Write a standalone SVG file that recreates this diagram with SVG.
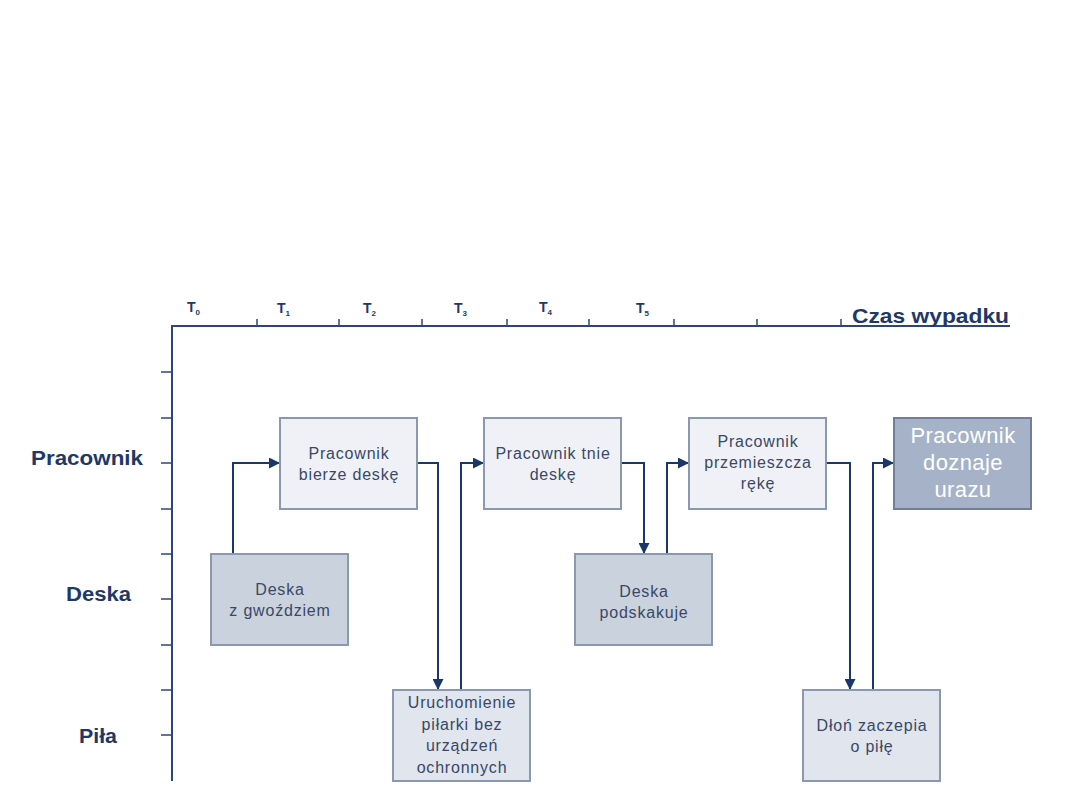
<svg xmlns="http://www.w3.org/2000/svg" width="1080" height="810" viewBox="0 0 1080 810">
<style>
.ax{stroke:#2a4777;stroke-width:2;fill:none}
.tk{stroke:#2a4777;stroke-width:1.5}
.lbl{font-family:"Liberation Sans",Arial,sans-serif;font-weight:bold;fill:#1f3868;font-size:20px}
.tl{font-family:"Liberation Sans",Arial,sans-serif;font-weight:bold;fill:#1f3868;font-size:14px}
.sub{font-size:8px}
.box{stroke:#8b98b2;stroke-width:2}
.l{fill:#eff1f6}
.m{fill:#cad2de}
.p{fill:#e0e5ee}
.d{fill:#a5b2c7;stroke:#6f7f9c}
.bt{font-family:"Liberation Sans",Arial,sans-serif;font-size:16px;letter-spacing:0.8px;fill:#3a4866;text-anchor:middle}
.wt{font-family:"Liberation Sans",Arial,sans-serif;font-size:22px;letter-spacing:0.4px;fill:#ffffff;text-anchor:middle}
.cn{stroke:#1b3768;stroke-width:2;fill:none}
</style>
<defs>
<marker id="ar" viewBox="0 0 10 10" refX="10" refY="5" markerWidth="11" markerHeight="11" orient="auto" markerUnits="userSpaceOnUse">
<path d="M0,0 L10,5 L0,10 z" fill="#1b3768"/>
</marker>
</defs>
<rect width="1080" height="810" fill="#ffffff"/>
<g id="axes">
<path class="ax" d="M172,781 V326 H1010"/>
<g class="tk">
<line x1="257" y1="326" x2="257" y2="319"/>
<line x1="339" y1="326" x2="339" y2="319"/>
<line x1="422" y1="326" x2="422" y2="319"/>
<line x1="507" y1="326" x2="507" y2="319"/>
<line x1="589" y1="326" x2="589" y2="319"/>
<line x1="674" y1="326" x2="674" y2="319"/>
<line x1="757" y1="326" x2="757" y2="319"/>
<line x1="841" y1="326" x2="841" y2="319"/>
<line x1="161" y1="372" x2="172" y2="372"/>
<line x1="161" y1="418" x2="172" y2="418"/>
<line x1="161" y1="463" x2="172" y2="463"/>
<line x1="161" y1="509" x2="172" y2="509"/>
<line x1="161" y1="554" x2="172" y2="554"/>
<line x1="161" y1="599" x2="172" y2="599"/>
<line x1="161" y1="645" x2="172" y2="645"/>
<line x1="161" y1="690" x2="172" y2="690"/>
<line x1="161" y1="735" x2="172" y2="735"/>
</g>
<text class="tl" x="187" y="312">T<tspan class="sub" dy="3">0</tspan></text>
<text class="tl" x="277" y="313">T<tspan class="sub" dy="3">1</tspan></text>
<text class="tl" x="363" y="313">T<tspan class="sub" dy="3">2</tspan></text>
<text class="tl" x="454" y="313">T<tspan class="sub" dy="3">3</tspan></text>
<text class="tl" x="539" y="312">T<tspan class="sub" dy="3">4</tspan></text>
<text class="tl" x="636" y="313">T<tspan class="sub" dy="3">5</tspan></text>
<text class="lbl" x="852" y="323" textLength="157" lengthAdjust="spacingAndGlyphs">Czas wypadku</text>
<text class="lbl" x="31" y="465" textLength="112" lengthAdjust="spacingAndGlyphs">Pracownik</text>
<text class="lbl" x="66" y="601" textLength="65" lengthAdjust="spacingAndGlyphs">Deska</text>
<text class="lbl" x="79" y="743" textLength="38" lengthAdjust="spacingAndGlyphs">Piła</text>
</g>
<g id="connectors">
<path class="cn" d="M233,554 V463 H280" marker-end="url(#ar)"/>
<path class="cn" d="M417,463 H438 V690" marker-end="url(#ar)"/>
<path class="cn" d="M461,690 V463 H484" marker-end="url(#ar)"/>
<path class="cn" d="M621,463 H644 V554" marker-end="url(#ar)"/>
<path class="cn" d="M667,554 V463 H689" marker-end="url(#ar)"/>
<path class="cn" d="M826,463 H850 V690" marker-end="url(#ar)"/>
<path class="cn" d="M873,690 V463 H894" marker-end="url(#ar)"/>
</g>
<g id="n1">
<rect class="box l" x="280" y="418" width="137" height="91"/>
<text class="bt" x="349" y="459">Pracownik</text>
<text class="bt" x="349" y="480">bierze deskę</text>
</g>
<g id="n2">
<rect class="box m" x="211" y="554" width="137" height="91"/>
<text class="bt" x="280" y="595">Deska</text>
<text class="bt" x="280" y="616">z gwoździem</text>
</g>
<g id="n3">
<rect class="box p" x="393" y="690" width="137" height="91"/>
<text class="bt" x="462" y="708" fill="#2a3c66">Uruchomienie</text>
<text class="bt" x="462" y="730">piłarki bez</text>
<text class="bt" x="462" y="751">urządzeń</text>
<text class="bt" x="462" y="773">ochronnych</text>
</g>
<g id="n4">
<rect class="box l" x="484" y="418" width="137" height="91"/>
<text class="bt" x="553" y="459">Pracownik tnie</text>
<text class="bt" x="553" y="480">deskę</text>
</g>
<g id="n5">
<rect class="box m" x="575" y="554" width="137" height="91"/>
<text class="bt" x="644" y="597">Deska</text>
<text class="bt" x="644" y="618">podskakuje</text>
</g>
<g id="n6">
<rect class="box l" x="689" y="418" width="137" height="91"/>
<text class="bt" x="758" y="447">Pracownik</text>
<text class="bt" x="758" y="468">przemieszcza</text>
<text class="bt" x="758" y="489">rękę</text>
</g>
<g id="n7">
<rect class="box d" x="894" y="418" width="137" height="91"/>
<text class="wt" x="963" y="443">Pracownik</text>
<text class="wt" x="963" y="470">doznaje</text>
<text class="wt" x="963" y="497">urazu</text>
</g>
<g id="n8">
<rect class="box p" x="803" y="690" width="137" height="91"/>
<text class="bt" x="872" y="731">Dłoń zaczepia</text>
<text class="bt" x="872" y="752">o piłę</text>
</g>
</svg>
